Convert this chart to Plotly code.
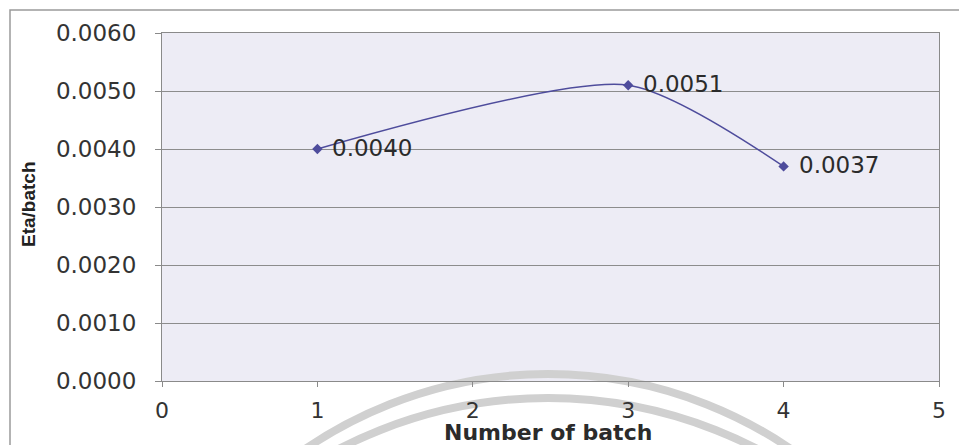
import plotly.graph_objects as go

# Batch efficiency data
batch_numbers = [1, 3, 4]
eta_per_batch = [0.0040, 0.0051, 0.0037]

x_ticks = [0, 1, 2, 3, 4, 5]
y_ticks = [0.0000, 0.0010, 0.0020, 0.0030, 0.0040, 0.0050, 0.0060]

W, H = 959, 445
L, R, T, B = 162, 20, 33, 64
pw, ph = W - L - R, H - T - B


def px_x(p):
    return (p - L) / pw


def px_y(p):
    return (H - B - p) / ph


line_color = "#4E4C9C"
wide_font = "DejaVu Sans, Verdana, sans-serif"
label_color = "#2b2b2b"

fig = go.Figure()
fig.add_trace(go.Scatter(
    x=batch_numbers,
    y=eta_per_batch,
    mode="lines+markers",
    line=dict(color=line_color, width=1.5, shape="spline", smoothing=0.7),
    marker=dict(symbol="diamond", size=8, color=line_color),
    showlegend=False,
))

fig.update_xaxes(
    range=[0, 5],
    tickvals=x_ticks,
    ticktext=[str(v) for v in x_ticks],
    ticks="outside", ticklen=5, tickcolor="#8a8a8a",
    ticklabelstandoff=5,
    showline=True, linecolor="#8a8a8a", linewidth=1, mirror=True,
    showgrid=False, zeroline=False,
    tickfont=dict(family=wide_font, size=22, color="#333333"),
)
fig.update_yaxes(
    range=[0, 0.006],
    tickvals=y_ticks,
    ticktext=[f"{v:.4f}" for v in y_ticks],
    ticks="outside", ticklen=6, tickcolor="#8a8a8a",
    ticklabelstandoff=14,
    showline=True, linecolor="#8a8a8a", linewidth=1, mirror=True,
    showgrid=True, gridcolor="#8c8c8c", gridwidth=1, zeroline=False,
    tickfont=dict(family=wide_font, size=23, color="#333333"),
)

arc_color = "rgb(208,208,208)"
shapes = [
    # outer chart frame
    dict(type="rect", xref="paper", yref="paper",
         x0=px_x(10), x1=px_x(975), y0=px_y(460), y1=px_y(10),
         line=dict(color="#9a9a9a", width=1.5), fillcolor="rgba(0,0,0,0)",
         layer="below"),
    # watermark arcs
    dict(type="circle", xref="paper", yref="paper",
         x0=px_x(548 - 430), x1=px_x(548 + 430), y0=px_y(374 + 860), y1=px_y(374),
         line=dict(color=arc_color, width=8), layer="below"),
    dict(type="circle", xref="paper", yref="paper",
         x0=px_x(548 - 455), x1=px_x(548 + 455), y0=px_y(398 + 910), y1=px_y(398),
         line=dict(color=arc_color, width=8), layer="below"),
]

# value labels beside each point
annotations = [
    dict(x=xv, y=yv, xref="x", yref="y", text=f"{yv:.4f}", showarrow=False,
         xanchor="left", yanchor="middle", xshift=13, yshift=1,
         font=dict(family=wide_font, size=23, color=label_color))
    for xv, yv in zip(batch_numbers, eta_per_batch)
]

annotations += [
    dict(text="<b>Number of batch</b>", xref="paper", yref="paper",
         x=px_x(548), y=px_y(432), xanchor="center", yanchor="middle",
         showarrow=False,
         font=dict(family=wide_font, size=22, color=label_color)),
    dict(text="<b>Eta/batch</b>", xref="paper", yref="paper",
         x=px_x(28), y=px_y(204), xanchor="center", yanchor="middle",
         showarrow=False, textangle=-90,
         font=dict(family="Liberation Sans, Arial, sans-serif", size=19, color="#222222")),
]

fig.update_layout(
    width=W, height=H,
    margin=dict(l=L, r=R, t=T, b=B),
    paper_bgcolor="white",
    plot_bgcolor="#EDECF5",
    shapes=shapes,
    annotations=annotations,
)

fig.write_html("out.html")
